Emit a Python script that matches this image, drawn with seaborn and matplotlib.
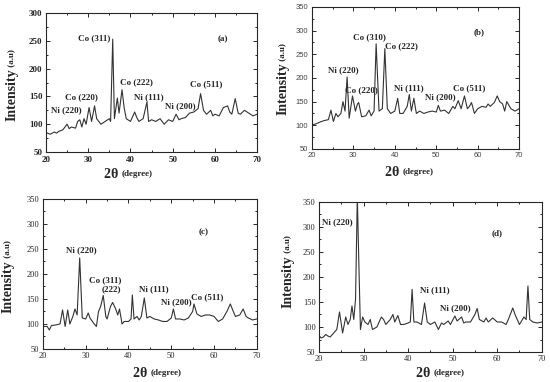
import numpy as np
import pandas as pd
import seaborn as sns
import matplotlib.pyplot as plt
from matplotlib.ticker import MultipleLocator

sns.set_style("ticks")
plt.rcParams['font.family'] = ['Liberation Serif', 'DejaVu Serif']

# Panel (a) spectrum
a_x = [20, 21, 22, 22.5, 23, 24, 25, 25.5, 26, 27, 27.5, 28, 28.5, 29, 29.5, 30.2, 30.8,
       31.5, 32, 33, 34, 35, 35.3, 35.8, 36.2, 36.9, 37.3, 38, 38.5, 39, 40, 41, 41.5,
       42, 43, 43.9, 44.3, 45, 46, 47, 48, 49, 50, 50.8, 51.5, 52, 53, 54, 55, 56,
       56.6, 57.3, 58, 59, 59.5, 60, 61, 62, 63, 63.5, 64, 64.8, 65.5, 66, 67, 68, 69, 70]
a_y = [85, 82, 86, 84, 87, 90, 100, 92, 95, 93, 105, 108, 95, 110, 100, 130, 105,
       133, 110, 100, 105, 110, 105, 253, 110, 147, 120, 162, 130, 110, 105, 122, 112,
       105, 110, 140, 105, 108, 105, 110, 100, 108, 105, 118, 108, 110, 112, 120, 122, 128,
       155, 125, 118, 125, 115, 118, 115, 130, 133, 122, 118, 146, 120, 118, 125, 120, 115, 118]

# Panel (b)
b_x = [20, 21, 22, 23, 24, 24.6, 25.2, 25.8, 26.3, 27, 27.5, 28, 28.5, 29, 29.8, 30.5,
       31, 31.3, 32, 33, 33.8, 34.3, 35, 35.5, 36.2, 37, 37.6, 38.2, 39, 40, 40.7, 41.2,
       42, 43, 43.5, 44, 44.6, 45.2, 46, 47, 48, 49, 50, 50.5, 51, 52, 53, 54, 54.5,
       55.3, 56, 56.8, 57.5, 58, 58.5, 59.2, 60, 61, 62, 62.5, 63, 64, 64.7, 65.3, 66,
       66.5, 67, 68, 69, 70]
b_y = [101, 103, 107, 110, 112, 132, 108, 125, 118, 125, 150, 130, 202, 115, 162, 130,
       145, 148, 118, 120, 132, 120, 130, 272, 130, 135, 262, 135, 125, 130, 157, 125,
       125, 140, 165, 130, 157, 125, 130, 125, 128, 130, 128, 142, 130, 132, 125, 140, 135,
       152, 135, 162, 135, 140, 148, 125, 135, 140, 138, 145, 140, 148, 162, 150, 145,
       130, 150, 135, 130, 135]

# Panel (c)
c_x = [20, 21, 21.5, 22, 23, 24, 24.6, 25.2, 25.8, 26.3, 27, 27.5, 28, 28.6, 29.2, 30,
       30.6, 31, 32, 32.5, 33, 33.5, 34.1, 34.7, 35, 35.8, 36.3, 37, 37.5, 37.9, 38.5,
       39, 40, 40.6, 40.9, 41.3, 42, 42.5, 43, 43.7, 44.3, 45, 46, 47, 48, 49, 50, 50.5,
       51, 52, 53, 54, 55, 55.3, 56, 57, 58, 59, 60, 61, 62, 63, 63.8, 64.5, 65, 66,
       66.8, 67.5, 68, 69, 70]
c_y = [95, 95, 88, 97, 98, 100, 128, 95, 128, 100, 115, 130, 118, 232, 112, 110,
       122, 112, 100, 95, 125, 135, 157, 115, 110, 135, 143, 130, 118, 130, 100,
       105, 105, 110, 158, 110, 115, 108, 115, 152, 112, 115, 110, 108, 105, 105, 112, 130,
       110, 110, 108, 112, 125, 140, 120, 115, 118, 118, 115, 105, 110, 125, 140, 125, 115, 118,
       130, 115, 112, 108, 110]

# Panel (d)
d_x = [20, 20.5, 21, 21.5, 22, 22.5, 23, 23.5, 24, 24.6, 25.3, 26, 26.5, 27, 27.4, 27.8,
       28.2, 28.6, 28.9, 29.3, 29.8, 30.3, 31, 31.5, 32, 33, 34, 34.5, 35, 36, 36.6, 37,
       37.7, 38.3, 39, 40, 40.5, 40.9, 41.3, 42, 43, 43.7, 44.3, 45, 46, 46.8, 47.5, 48,
       49, 49.5, 50.5, 51, 52, 52.5, 53, 54, 55, 55.5, 56, 57, 57.5, 58, 59, 60, 61, 62,
       62.5, 63.5, 64, 65, 66, 66.5, 66.9, 67.3, 68, 69, 70]
d_y = [83, 78, 80, 85, 82, 80, 85, 90, 95, 130, 88, 120, 105, 115, 142, 115,
       155, 360, 245, 95, 120, 110, 105, 115, 95, 100, 120, 115, 105, 115, 125, 110,
       123, 105, 105, 108, 110, 175, 110, 110, 105, 148, 110, 105, 110, 95, 108, 105,
       112, 105, 122, 112, 120, 108, 110, 110, 125, 137, 115, 110, 118, 110, 118, 110, 110, 105,
       115, 138, 125, 105, 120, 115, 182, 115, 110, 108, 110]

# peak labels: (text, x, y)
a_labels = [("Ni (220)", 24.7, 125), ("Co (220)", 28.3, 148), ("Co (311)", 31.5, 255),
            ("Co (222)", 41.4, 176), ("Ni (111)", 44.3, 148), ("Ni (200)", 51.7, 132),
            ("Co (511)", 58.0, 172), ("(a)", 61.9, 252)]
b_labels = [("Ni (220)", 27.7, 217), ("Co (220)", 32.0, 175), ("Co (310)", 33.9, 285),
            ("Co (222)", 41.7, 268), ("Ni (111)", 43.4, 178), ("Ni (200)", 51.0, 159),
            ("Co (511)", 57.9, 178), ("(b)", 60.3, 296)]
c_labels = [("Ni (220)", 28.9, 247), ("Co (311)", 34.6, 187), ("(222)", 36.1, 169),
            ("Ni (111)", 46.0, 170), ("Ni (200)", 51.1, 144), ("Co (511)", 58.3, 153),
            ("(c)", 57.5, 284)]
d_labels = [("Ni (220)", 24.0, 310), ("Ni (111)", 45.9, 173), ("Ni (200)", 50.7, 138),
            ("(d)", 59.9, 287)]

fig = plt.figure(figsize=(5.5, 3.82), dpi=100)

panels = [
    # x, y, labels, axes rect, ymax, ylabel pos (x, junction y), xlabel pos (data x, axes y), tick font
    (a_x, a_y, a_labels, [0.0836, 0.602, 0.384, 0.364], 300, (-0.16, 0.60), (38.0, -0.158), 'serif_bold'),
    (b_x, b_y, b_labels, [0.567, 0.610, 0.377, 0.372], 350, (-0.14, 0.606), (42.0, -0.162), 'sans'),
    (c_x, c_y, c_labels, [0.078, 0.0864, 0.389, 0.393], 350, (-0.163, 0.593), (45.2, -0.16), 'serif'),
    (d_x, d_y, d_labels, [0.58, 0.0785, 0.405, 0.393], 350, (-0.139, 0.647), (45.8, -0.14), 'serif'),
]

for xs, ys, labels, rect, ymax, ylab, xlab, tickfont in panels:
    ax = fig.add_axes(rect)
    df = pd.DataFrame({'two_theta': xs, 'intensity': ys})
    sns.lineplot(data=df, x='two_theta', y='intensity', ax=ax, color='#333333',
                 linewidth=0.8, estimator=None, sort=False)
    ax.set_xlim(20, 70)
    ax.set_ylim(50, ymax)
    ax.xaxis.set_major_locator(MultipleLocator(10))
    ax.xaxis.set_minor_locator(MultipleLocator(5))
    ax.yaxis.set_major_locator(MultipleLocator(50))
    ax.yaxis.set_minor_locator(MultipleLocator(25))
    ax.tick_params(which='both', direction='in', top=True, right=True, width=0.7)
    ax.tick_params(which='major', length=3)
    ax.tick_params(which='minor', length=1.5)
    for s in ax.spines.values():
        s.set_linewidth(0.8)
    ax.set_xlabel('')
    ax.set_ylabel('')

    for lab in ax.get_xticklabels() + ax.get_yticklabels():
        if tickfont == 'serif_bold':
            lab.set_fontweight('bold')
            lab.set_fontsize(6.5)
        elif tickfont == 'sans':
            lab.set_family(['Liberation Sans', 'DejaVu Sans'])
            lab.set_fontsize(5.5)
            lab.set_color('#444444')
        else:
            lab.set_fontsize(6)
    ax.tick_params(axis='both', pad=2.5)

    for text, tx, ty in labels:
        ax.text(tx, ty, text, ha='center', va='center', fontsize=6.5, fontweight='bold')

    # y label: big "Intensity" with small "(a.u)"
    ax.text(ylab[0], ylab[1], 'Intensity', transform=ax.transAxes, rotation=90,
            ha='center', va='top', fontsize=10, fontweight='bold')
    ax.text(ylab[0], ylab[1], ' (a.u)', transform=ax.transAxes, rotation=90,
            ha='center', va='bottom', fontsize=6.5, fontweight='bold')

    # x label: big "2θ" with small "(degree)"
    tr = ax.get_xaxis_transform()
    ax.text(xlab[0], xlab[1], '2θ ', transform=tr, ha='right', va='center',
            fontsize=10, fontweight='bold')
    ax.text(xlab[0], xlab[1], '(degree)', transform=tr, ha='left', va='center',
            fontsize=6.5, fontweight='bold')

fig.savefig('out.png', dpi=100)
